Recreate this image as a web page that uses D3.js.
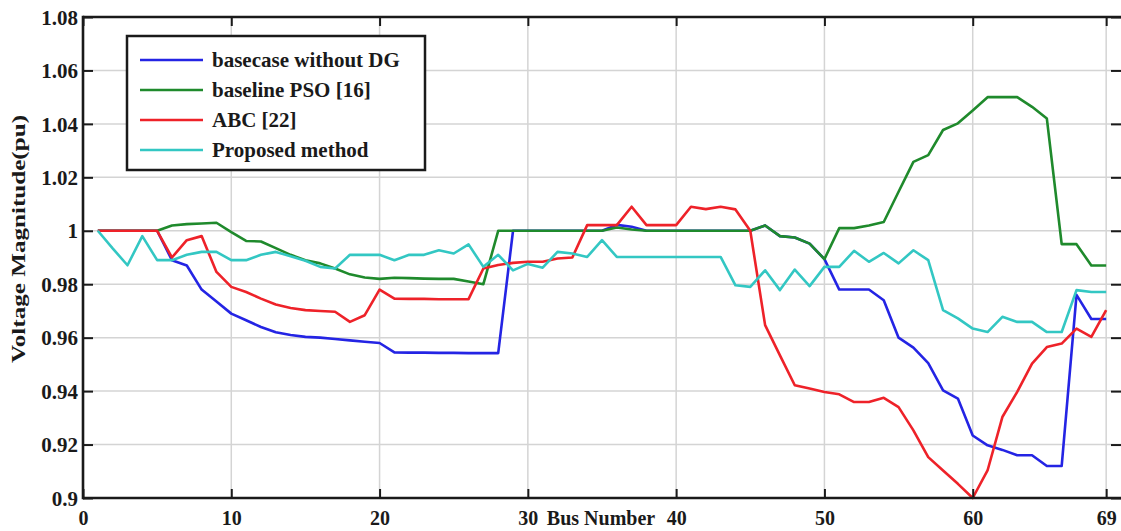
<!DOCTYPE html>
<html>
<head>
<meta charset="utf-8">
<script src="https://cdn.jsdelivr.net/npm/d3@7"></script>
<style>
  body { margin: 0; background: #fff; }
  svg text { font-family: "Liberation Serif", "Times New Roman", serif; font-weight: bold; fill: #1a1a1a; }
</style>
</head>
<body>
<svg id="chart" width="1121" height="531"></svg>
<script>
// bus numbers 1..69
var buses = [1,2,3,4,5,6,7,8,9,10,11,12,13,14,15,16,17,18,19,20,21,22,23,24,25,26,27,28,29,30,
  31,32,33,34,35,36,37,38,39,40,41,42,43,44,45,46,47,48,49,50,51,52,53,54,55,56,57,58,59,60,
  61,62,63,64,65,66,67,68,69];

var basecase = [1,1,1,1,1,0.989,0.987,0.978,0.9735,0.969,0.9665,0.964,0.962,0.961,0.9603,0.96,0.9595,0.959,0.9585,0.958,
  0.9545,0.9544,0.9544,0.9543,0.9543,0.9542,0.9542,0.9542,1,1,1,1,1,1,1,1.0022,1.0015,1,1,1,
  1,1,1,1,1,1.002,0.998,0.9975,0.9952,0.9894,0.978,0.978,0.978,0.974,0.96,0.9563,0.9505,0.9403,0.9372,0.9234,
  0.9197,0.918,0.916,0.916,0.912,0.912,0.976,0.967,0.967];

var pso = [1,1,1,1,1,1.002,1.0025,1.0027,1.003,0.9995,0.9962,0.996,0.9935,0.991,0.989,0.9878,0.9859,0.9837,0.9825,0.982,
  0.9824,0.9823,0.9821,0.982,0.982,0.981,0.98,1,1,1,1,1,1,1,1,1.0012,1.0005,1,1,1,
  1,1,1,1,1,1.002,0.998,0.9975,0.9952,0.9894,1.001,1.001,1.002,1.0033,1.0146,1.0258,1.0283,1.0377,1.0402,1.045,
  1.05,1.05,1.05,1.0464,1.042,0.995,0.995,0.987,0.987];

var abc = [1,1,1,1,1,0.99,0.9965,0.998,0.9846,0.979,0.9771,0.9746,0.9724,0.9711,0.9703,0.97,0.9697,0.9659,0.9684,0.978,
  0.9746,0.9745,0.9745,0.9744,0.9744,0.9744,0.9859,0.9872,0.988,0.9884,0.9884,0.9896,0.99,1.0021,1.0021,1.0021,1.009,1.0021,1.0021,1.0021,
  1.009,1.0081,1.009,1.008,1.0,0.9647,0.9534,0.9422,0.941,0.9397,0.9388,0.9359,0.9359,0.9375,0.934,0.9253,0.9153,0.9103,0.9053,0.9,
  0.9103,0.9303,0.9397,0.9503,0.9565,0.9578,0.9634,0.9603,0.9703];

var proposed = [1,0.9934,0.9871,0.998,0.989,0.989,0.991,0.9921,0.9921,0.989,0.989,0.991,0.9921,0.9905,0.9888,0.9865,0.9859,0.991,0.991,0.991,
  0.989,0.991,0.991,0.9927,0.9915,0.9949,0.9865,0.991,0.9852,0.9876,0.9862,0.9921,0.9915,0.9902,0.9965,0.9902,0.9902,0.9902,0.9902,0.9902,
  0.9902,0.9902,0.9902,0.9796,0.979,0.9852,0.9778,0.9855,0.9793,0.9865,0.9865,0.9925,0.9884,0.9917,0.9878,0.9927,0.989,0.9703,0.9672,0.9634,
  0.9621,0.9678,0.9659,0.9659,0.9621,0.9621,0.9778,0.9771,0.9771];

var seriesNames = ["basecase without DG", "baseline PSO [16]", "ABC [22]", "Proposed method"];
var seriesColors = ["#2424e4", "#1f8a2c", "#ee2229", "#33c7c3"];
var xTicks = [0, 10, 20, 30, 40, 50, 60, 69];
var yTicks = [0.9, 0.92, 0.94, 0.96, 0.98, 1, 1.02, 1.04, 1.06, 1.08];
var yTickLabels = ["0.9", "0.92", "0.94", "0.96", "0.98", "1", "1.02", "1.04", "1.06", "1.08"];

var L = 83, T = 17, R = 1121, B = 498;
var svg = d3.select("#chart");

var x = d3.scaleLinear().domain([0, 70]).range([L, R]);
var y = d3.scaleLinear().domain([0.9, 1.08]).range([B, T]);

// grid
var grid = svg.append("g");
grid.selectAll("line.gx")
    .data(xTicks.filter(function(d){ return d > 0; }))
    .enter().append("line")
    .attr("x1", function(d){ return x(d); })
    .attr("x2", function(d){ return x(d); })
    .attr("y1", T).attr("y2", B)
    .attr("stroke", "#d4d4d4").attr("stroke-width", 1.5);
grid.selectAll("line.gy")
    .data(yTicks.slice(1, -1))
    .enter().append("line")
    .attr("x1", L).attr("x2", R)
    .attr("y1", function(d){ return y(d); })
    .attr("y2", function(d){ return y(d); })
    .attr("stroke", "#d4d4d4").attr("stroke-width", 1.5);

// lines
var all = [basecase, pso, abc, proposed];
var line = d3.line()
    .x(function(d, i){ return x(buses[i]); })
    .y(function(d){ return y(d); });

all.forEach(function(s, k){
    svg.append("path")
        .attr("d", line(s))
        .attr("fill", "none")
        .attr("stroke", seriesColors[k])
        .attr("stroke-width", 2.6)
        .attr("stroke-linejoin", "round");
});

// axes (ticks pointing inward)
var axBottom = svg.append("g")
    .attr("transform", "translate(0," + B + ")")
    .call(d3.axisBottom(x).tickValues(xTicks).tickSize(-9).tickPadding(13).tickFormat(d3.format("d")));
var axTop = svg.append("g")
    .attr("transform", "translate(0," + T + ")")
    .call(d3.axisTop(x).tickValues(xTicks).tickSize(-9).tickFormat(""));
var axLeft = svg.append("g")
    .attr("transform", "translate(" + L + ",0)")
    .call(d3.axisLeft(y).tickValues(yTicks).tickSize(-10).tickPadding(5)
        .tickFormat(function(d, i){ return yTickLabels[i]; }));
var axRight = svg.append("g")
    .attr("transform", "translate(" + R + ",0)")
    .call(d3.axisRight(y).tickValues(yTicks).tickSize(-10).tickFormat(""));

[axBottom, axTop, axLeft, axRight].forEach(function(g){
    g.select(".domain").remove();
    g.selectAll(".tick line").attr("stroke", "#1a1a1a").attr("stroke-width", 2);
    g.selectAll("text").attr("font-size", 21).attr("fill", "#1a1a1a")
        .style("font-family", "'Liberation Serif', 'Times New Roman', serif").style("font-weight", "bold");
});
axBottom.selectAll(".tick text").attr("font-size", 20).attr("dy", "0.7em");
axLeft.selectAll(".tick text").attr("dy", "0.34em");

// frame
svg.append("line").attr("x1", L).attr("x2", R).attr("y1", B).attr("y2", B).attr("stroke", "#1a1a1a").attr("stroke-width", 2.6);
svg.append("line").attr("x1", L).attr("x2", R).attr("y1", T).attr("y2", T).attr("stroke", "#1a1a1a").attr("stroke-width", 2.6);
svg.append("line").attr("x1", L).attr("x2", L).attr("y1", T - 1.3).attr("y2", B + 1.3).attr("stroke", "#1a1a1a").attr("stroke-width", 2.6);

// axis labels
svg.append("text")
    .attr("x", 601).attr("y", 525)
    .attr("text-anchor", "middle")
    .attr("font-size", 20)
    .text("Bus Number");

svg.append("text")
    .attr("transform", "translate(25,239) rotate(-90)")
    .attr("text-anchor", "middle")
    .attr("font-size", 19)
    .attr("textLength", 248)
    .attr("lengthAdjust", "spacingAndGlyphs")
    .text("Voltage Magnitude(pu)");

// legend
var legend = svg.append("g");
legend.append("rect")
    .attr("x", 127).attr("y", 36).attr("width", 298).attr("height", 134)
    .attr("fill", "#fff").attr("stroke", "#1a1a1a").attr("stroke-width", 2.5);

seriesNames.forEach(function(name, k){
    var ly = 60 + k * 30;
    legend.append("line")
        .attr("x1", 140).attr("x2", 203)
        .attr("y1", ly).attr("y2", ly)
        .attr("stroke", seriesColors[k]).attr("stroke-width", 2.6);
    legend.append("text")
        .attr("x", 212).attr("y", ly)
        .attr("dy", "0.35em")
        .attr("font-size", 21)
        .text(name);
});
</script>
</body>
</html>
